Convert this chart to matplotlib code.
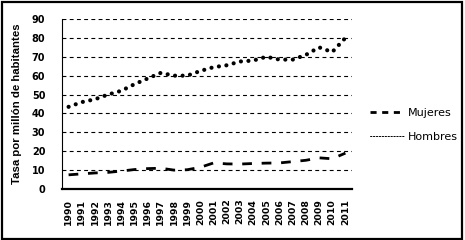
import matplotlib
matplotlib.use("Agg")
import matplotlib.pyplot as plt
import numpy as np
from matplotlib.patches import Rectangle

years = [str(y) for y in range(1990, 2012)]
hombres = [43.5, 46, 47.5, 50, 52, 55.5, 58.5, 61.5, 60, 60, 62.5, 64.5,
           65.5, 67.5, 68, 70, 68.5, 68.5, 71, 75, 72.5, 80]
mujeres = [7.5, 8, 8.5, 8.8, 9.5, 10.3, 10.8, 11, 10, 10.2, 11.5, 13.8,
           13.3, 13.2, 13.5, 13.7, 13.8, 14.5, 15.2, 16.5, 16, 19]
yticks = list(range(0, 100, 10))

fig = plt.figure(figsize=(4.65, 2.4), dpi=100)
fig.patches.append(Rectangle((0.004, 0.006), 0.99, 0.985, transform=fig.transFigure,
                             fill=False, edgecolor="black", linewidth=1.6))
ax = fig.add_axes([62/465, 1-189/240, 290/465, 170/240])

x = np.arange(len(years))
l1, = ax.plot(x, mujeres, color="black", lw=2.0, linestyle=(0, (3.5, 3.5)),
              dash_capstyle="butt", label="Mujeres")
l2, = ax.plot(x, hombres, color="black", lw=3.0, linestyle=(0, (0.01, 1.8)),
              dash_capstyle="round", label="Hombres")

ax.set_xlim(-0.5, len(years) - 0.5)
ax.set_ylim(0, 90)
ax.set_yticks(yticks)
for v in yticks[1:]:
    ax.axhline(v, color="black", lw=0.8, linestyle=(0, (3.5, 3)), zorder=0)

ax.set_xticks(x)
ax.set_xticklabels(years, rotation=90, fontsize=6.7, fontweight="bold",
                   family="DejaVu Sans")
for t in ax.get_yticklabels():
    t.set_fontsize(7)
    t.set_fontweight("bold")
    t.set_family("DejaVu Sans")
ax.tick_params(axis="both", length=0)
ax.tick_params(axis="y", pad=12)
ax.tick_params(axis="x", pad=7)

for s in ["top", "right"]:
    ax.spines[s].set_visible(False)
ax.spines["left"].set_linewidth(0.8)
ax.spines["bottom"].set_linewidth(1.6)

ax.set_ylabel("Tasa por millón de habitantes", fontsize=8.2, fontweight="bold",
              family="Liberation Sans", labelpad=7)

leg = fig.legend(handles=[l1, l2], loc="center left", bbox_to_anchor=(370/465, 1-125/240),
                 frameon=False, fontsize=8, handlelength=3.1, handletextpad=0.3,
                 labelspacing=1.2, borderpad=0, borderaxespad=0)
hl = leg.get_lines()
hl[0].set_linestyle((0, (2.2, 2)))
hl[1].set_linewidth(0.7)
hl[1].set_linestyle((0, (1.5, 1.5)))

fig.savefig("out.png", dpi=100)
